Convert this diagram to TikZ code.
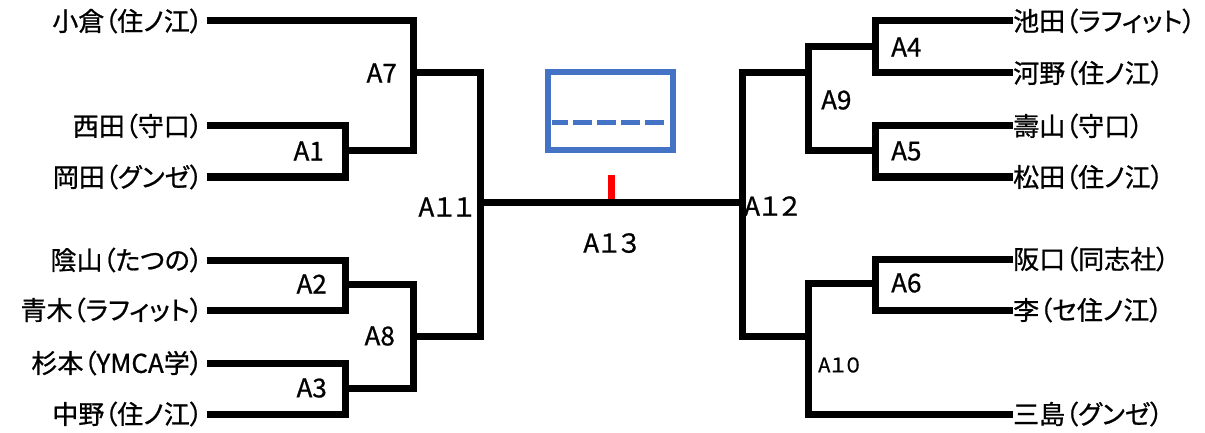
\documentclass[tikz,border=0pt]{standalone}
\usepackage{fontspec}
\setmainfont{Noto Sans CJK JP}[RawFeature={+palt}, FakeBold=0.8]
\usetikzlibrary{positioning}
\definecolor{boxblue}{HTML}{4472C4}

\tikzset{
        pl/.style={font=\fontsize{26}{29}\selectfont, inner sep=0pt},
        lname/.style={pl, anchor=east, inner xsep=4pt},
        rname/.style={pl, anchor=west},
        lbl/.style={font=\fontsize{26}{28}\selectfont, inner sep=0pt},
        bk/.style={line width=7pt, black},
}

\begin{document}
\begin{tikzpicture}[x=1pt, y=-1pt]
        \useasboundingbox (0,0) rectangle (1205,433);
        % left side
        \node [lname] (ogura)    at (207,21)  {小倉（住ノ江）};
        \node [lname] (nishida)  at (207,126) {西田（守口）};
        \node [lname] (okada)    at (207,177) {岡田（グンゼ）};
        \node [lname] (kageyama) at (207,260) {陰山（たつの）};
        \node [lname] (aoki)     at (207,310) {青木（ラフィット）};
        \node [lname] (sugimoto) at (207,363) {杉本（YMCA学）};
        \node [lname] (nakano)   at (207,414) {中野（住ノ江）};
        % right side
        \node [rname] (ikeda)     at (1013,21)  {池田（ラフィット）};
        \node [rname] (kawano)    at (1013,73)  {河野（住ノ江）};
        \node [rname] (kotobuki)  at (1013,126) {壽山（守口）};
        \node [rname] (matsuda)   at (1013,177) {松田（住ノ江）};
        \node [rname] (sakaguchi) at (1013,259) {阪口（同志社）};
        \node [rname] (lee)       at (1013,310) {李（セ住ノ江）};
        \node [rname] (mishima)   at (1013,414) {三島（グンゼ）};

        \coordinate (a1) at (345,151);
        \coordinate (a2) at (345,284);
        \coordinate (a3) at (345,388);
        \coordinate (a7) at (413,73);
        \coordinate (a8) at (413,336);
        \coordinate (a11) at (480,202);
        \coordinate (a4) at (875,47);
        \coordinate (a5) at (875,151);
        \coordinate (a6) at (875,283);
        \coordinate (a9) at (808,73);
        \coordinate (a10) at (808,336);
        \coordinate (a12) at (742,202);
        \coordinate (a13) at (611,202);
        \coordinate (flag) at (611,175);

        \node [lbl, left=21pt of a1] (l1) {A1};
        \node [lbl, left=18pt of a2] (l2) {A2};
        \node [lbl, left=18pt of a3] (l3) {A3};
        \node [lbl, left=16pt of a7] (l7) {A7};
        \node [lbl, left=18pt of a8] (l8) {A8};
        \node [lbl, left=6pt of a11, yshift=-5pt] (l11) {A１１};
        \node [lbl, right=16pt of a4] (l4) {A4};
        \node [lbl, right=16pt of a5] (l5) {A5};
        \node [lbl, right=16pt of a6] (l6) {A6};
        \node [lbl, right=13pt of a9, yshift=-27pt] (l9) {A9};
        \node [lbl, right=10pt of a10, yshift=-29pt, font=\fontsize{20}{22}\selectfont] (l10) {A１０};
        \node [lbl, right=2pt of a12, yshift=-4pt] (l12) {A１２};
        \node [lbl, below=31pt of a13] (l13) {A１３};

        \node [draw=boxblue, line width=6pt, minimum width=125pt, minimum height=78pt, inner sep=0pt] (board) at (610.5,111) {};
        \draw [boxblue, line width=5pt, dash pattern=on 19pt off 5pt, dash phase=3pt] (552,123) -- (664,123);

        \draw [red, line width=7pt] (flag) -- (a13);

        \draw [bk] (nishida.east) -| (a1) |- (okada.east);
        \draw [bk] (kageyama.east) -| (a2) |- (aoki.east);
        \draw [bk] (sugimoto.east) -| (a3) |- (nakano.east);
        \draw [bk] (ogura.east) -| (a7) |- (a1);
        \draw [bk] (a2) -| (a8) |- (a3);
        \draw [bk] (a7) -| (a11) |- (a8);
        \draw [bk] (ikeda.west) -| (a4) |- (kawano.west);
        \draw [bk] (kotobuki.west) -| (a5) |- (matsuda.west);
        \draw [bk] (sakaguchi.west) -| (a6) |- (lee.west);
        \draw [bk] (a4) -| (a9) |- (a5);
        \draw [bk] (a6) -| (a10) |- (mishima.west);
        \draw [bk] (a9) -| (a12) |- (a10);
        \draw [bk] (a11) -- (a12);
\end{tikzpicture}
\end{document}
